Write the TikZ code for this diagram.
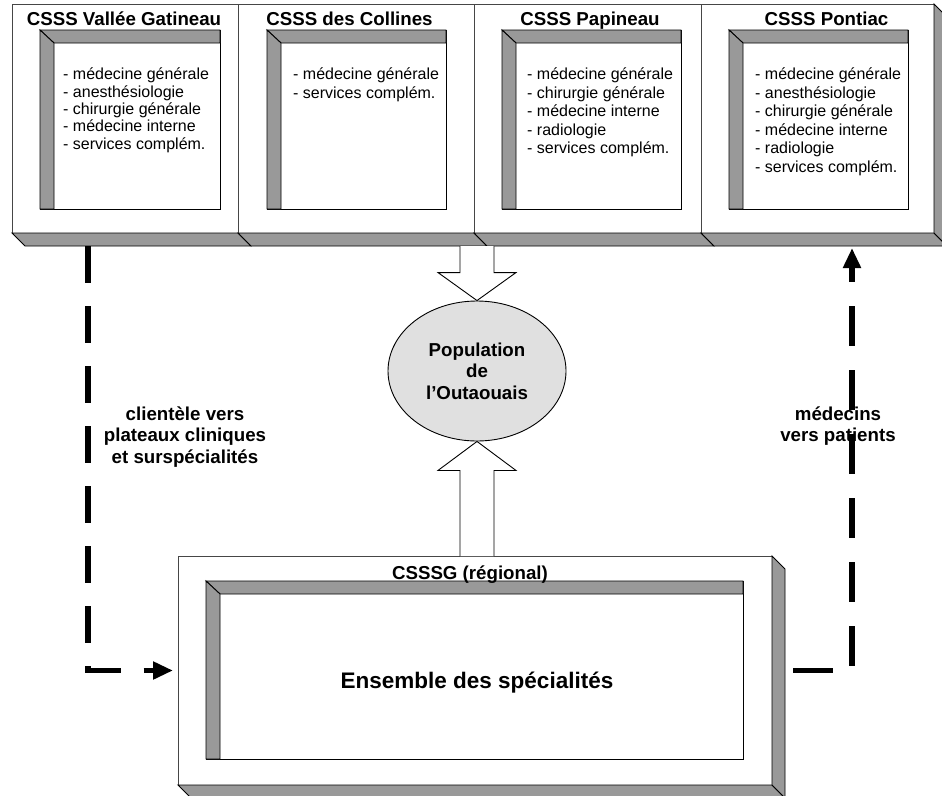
\documentclass[tikz,border=0pt]{standalone}
\usepackage{fontspec}
\setmainfont{Liberation Sans}
\usetikzlibrary{arrows.meta,shapes.geometric,calc}
\definecolor{bevel}{RGB}{153,153,153}
\definecolor{popgray}{RGB}{224,224,224}
\definecolor{faceline}{RGB}{70,70,70}
\tikzset{
  face/.style={draw=faceline, fill=white, line width=0.9pt, inner sep=0pt, outer sep=0pt, anchor=north west},
  bevelfill/.style={draw=black, fill=bevel, line width=0.9pt, line join=miter},
  panel/.style={draw=black, fill=white, line width=0.9pt, inner sep=0pt, outer sep=0pt, anchor=north west},
  hollow/.style={draw=black, fill=white, line width=0.9pt},
  dashline/.style={line width=5.5pt, black},
  ttl/.style={font=\fontsize{18.7}{21.5}\selectfont\bfseries, inner sep=0pt, anchor=base},
  lst/.style={font=\fontsize{16}{18.5}\selectfont, align=left, inner sep=0pt, anchor=north west},
  lbl/.style={font=\fontsize{18.7}{21.5}\selectfont\bfseries, align=center, inner sep=0pt},
}
\newcommand\tdface[5]{%
  \node[face, minimum width=#4pt, minimum height=#5pt] (#1) at (#2,#3) {};
  \filldraw[bevelfill] (#1.south west) -- (#1.south east) -- ++(13,13) -- ($(#1.south west)+(13,13)$) -- cycle;}
\newcommand\tdpanel[5]{%
  \node[panel, minimum width=#4pt, minimum height=#5pt] (#1) at (#2,#3) {};
  \filldraw[bevelfill] (#1.north west) -- (#1.north east) -- ++(0,13) -- ($(#1.north west)+(14,13)$) -- cycle;
  \filldraw[bevelfill] (#1.north west) -- ($(#1.north west)+(14,13)$) -- ($(#1.south west)+(14,0)$) -- (#1.south west) -- cycle;}
\begin{document}
\begin{tikzpicture}[x=1pt,y=-1pt]
\useasboundingbox (0,0) rectangle (942,795);
\clip (0,0) rectangle (942,795);
% top boxes
\tdface{vg}{12}{4}{226}{229}
\tdface{co}{238}{4}{236}{229}
\tdface{pa}{474}{4}{227}{229}
\tdface{po}{701}{4}{233}{229}
\filldraw[bevelfill] (po.north east) -- ++(13,13) -- ($(po.south east)+(13,13)$) -- (po.south east) -- cycle;
\tdpanel{vgp}{40}{30}{180}{179}
\tdpanel{cop}{267}{30}{179}{179}
\tdpanel{pap}{502}{30}{179}{179}
\tdpanel{pop}{729}{30}{179}{179}
\node[ttl] (vgt) at (124,25) {CSSS Vallée Gatineau};
\node[ttl] (cot) at (349.5,25) {CSSS des Collines};
\node[ttl] (pat) at (590,25) {CSSS Papineau};
\node[ttl] (pot) at (826.5,25) {CSSS Pontiac};
\node[lst, font=\fontsize{16}{17.3}\selectfont] (vgl) at (63,68) {- médecine générale\\- anesthésiologie\\- chirurgie générale\\- médecine interne\\- services complém.};
\node[lst] (col) at (293,68) {- médecine générale\\- services complém.};
\node[lst] (pal) at (527,68) {- médecine générale\\- chirurgie générale\\- médecine interne\\- radiologie\\- services complém.};
\node[lst] (pol) at (755,68) {- médecine générale\\- anesthésiologie\\- chirurgie générale\\- médecine interne\\- radiologie\\- services complém.};
% bottom box
\tdface{rg}{178}{556}{594}{229}
\filldraw[bevelfill] (rg.north east) -- ++(13,13) -- ($(rg.south east)+(13,13)$) -- (rg.south east) -- cycle;
\tdpanel{rgp}{206}{581}{537}{178}
\node[ttl] (rgt) at (470,579) {CSSSG (régional)};
\node[font=\fontsize{22.5}{26}\selectfont\bfseries, inner sep=0pt] (ens) at (477,683) {Ensemble des spécialités};
% population
\node[ellipse, draw=black, fill=popgray, line width=0.9pt, minimum width=178pt, minimum height=140pt, lbl] (popu) at (477,371) {Population\\de\\l'Outaouais};
\coordinate (dtop) at (477,246);
\coordinate (ubot) at (477,556);
\draw[hollow] ($(dtop)+(-17,0)$) -- ($(popu.north)+(-17,-28)$) -- ($(popu.north)+(-39,-28)$) -- (popu.north) -- ($(popu.north)+(39,-28)$) -- ($(popu.north)+(17,-28)$) -- ($(dtop)+(17,0)$);
\draw[hollow] ($(ubot)+(-17,0)$) -- ($(popu.south)+(-17,29)$) -- ($(popu.south)+(-39,29)$) -- (popu.south) -- ($(popu.south)+(39,29)$) -- ($(popu.south)+(17,29)$) -- ($(ubot)+(17,0)$);
% dashed connectors
\coordinate (lstart) at (88,246);
\draw[dashline, dash pattern=on 37pt off 23pt, -{Triangle[length=20pt,width=17pt]}] (lstart) |- ($(rg.west)+(-5,0)$);
\coordinate (rstart) at ($(rg.east)+(21,0)$);
\coordinate (rend) at (852,248);
\draw[dashline, dash pattern=on 40pt off 24pt, -{Triangle[length=20pt,width=17pt]}] (rstart) -| (rend);
\node[lbl] (cl) at (185,437) {clientèle vers\\plateaux cliniques\\et surspécialités};
\node[lbl] (md) at (838,426) {médecins\\vers patients};
\end{tikzpicture}
\end{document}
